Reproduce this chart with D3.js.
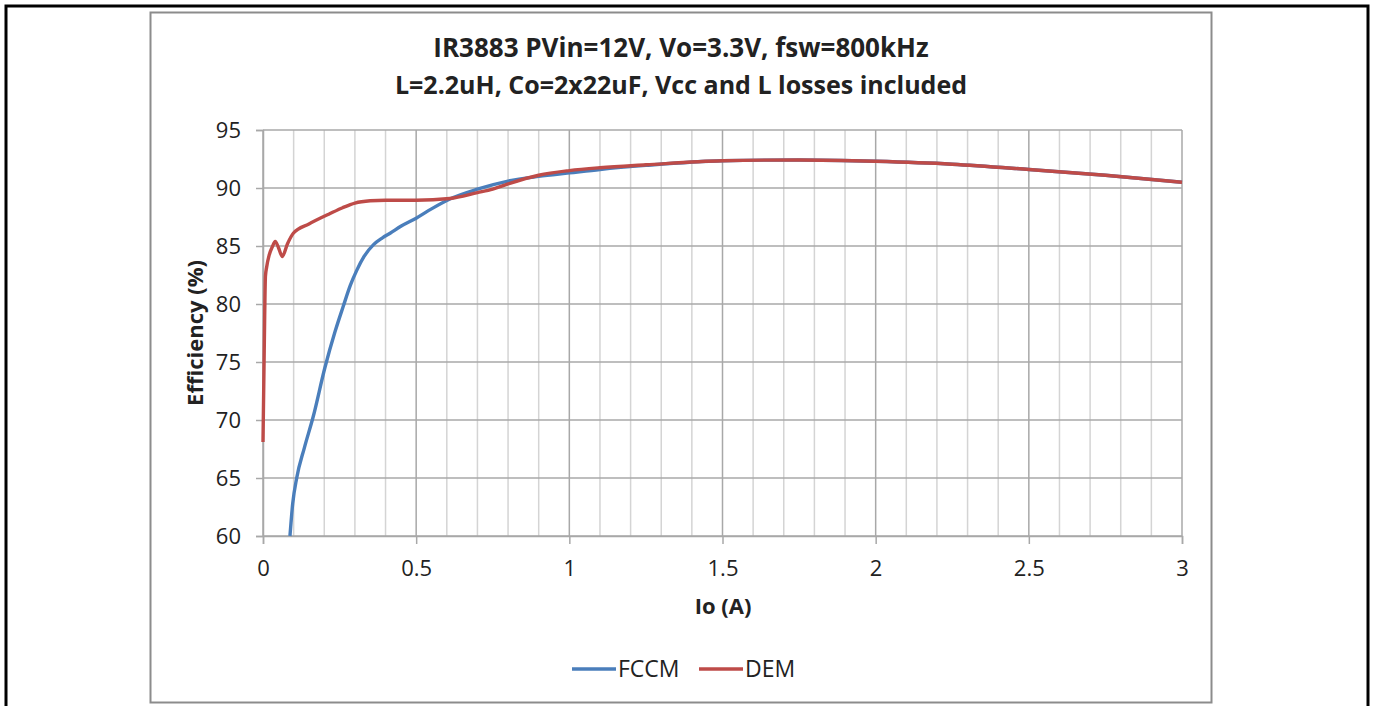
<!DOCTYPE html>
<html>
<head>
<meta charset="utf-8">
<script src="https://cdn.jsdelivr.net/npm/d3@7"></script>
<style>
  body { margin: 0; background: #fff; }
  text { font-family: "Open Sans", "Noto Sans", sans-serif; fill: #222; }
</style>
</head>
<body>
<div id="chart"></div>
<script>
// Io (A) and efficiency (%)
var fccmIo  = [0.088, 0.097, 0.11, 0.135, 0.164, 0.202, 0.235, 0.262, 0.285, 0.306, 0.33, 0.36, 0.39, 0.415, 0.45, 0.5, 0.55, 0.61, 0.7, 0.8, 0.9, 1.0, 1.1, 1.25, 1.5, 1.75, 2.0, 2.25, 2.5, 2.75, 3.0];
var fccmEff = [60.0, 62.8, 65.0, 67.6, 70.3, 74.5, 77.6, 79.8, 81.6, 82.9, 84.1, 85.1, 85.7, 86.1, 86.7, 87.4, 88.2, 89.05, 89.9, 90.6, 91.0, 91.3, 91.6, 91.95, 92.35, 92.42, 92.3, 92.05, 91.6, 91.1, 90.5];

var demIo  = [0.0, 0.004, 0.008, 0.012, 0.02, 0.03, 0.04, 0.05, 0.063, 0.08, 0.099, 0.15, 0.219, 0.26, 0.3, 0.35, 0.4, 0.5, 0.61, 0.7, 0.75, 0.8, 0.9, 1.0, 1.1, 1.25, 1.5, 1.75, 2.0, 2.25, 2.5, 2.75, 3.0];
var demEff = [68.1, 76.0, 82.4, 83.2, 84.2, 84.9, 85.4, 84.9, 84.1, 85.2, 86.1, 86.9, 87.8, 88.3, 88.7, 88.9, 88.95, 88.95, 89.1, 89.6, 89.9, 90.35, 91.1, 91.5, 91.75, 92.0, 92.35, 92.42, 92.3, 92.05, 91.6, 91.1, 90.5];

var xTicks = [0, 0.5, 1, 1.5, 2, 2.5, 3];
var yTicks = [60, 65, 70, 75, 80, 85, 90, 95];
var titleLines = ["IR3883 PVin=12V, Vo=3.3V, fsw=800kHz", "L=2.2uH, Co=2x22uF, Vcc and L losses included"];
var seriesNames = ["FCCM", "DEM"];
var seriesColors = ["#4a7ebb", "#be4b48"];

var W = 1375, H = 706;
var plot = { left: 263, right: 1182, top: 130, bottom: 536 };

var svg = d3.select("#chart").append("svg")
    .attr("width", W).attr("height", H);

// outer frame and chart border
svg.append("rect").attr("x", 6).attr("y", 6).attr("width", 1362).attr("height", 720)
    .attr("fill", "none").attr("stroke", "#000").attr("stroke-width", 3);
svg.append("rect").attr("x", 150.5).attr("y", 12.5).attr("width", 1061).attr("height", 690)
    .attr("fill", "#fff").attr("stroke", "#8c8c8c").attr("stroke-width", 2);

var x = d3.scaleLinear().domain([0, 3]).range([plot.left, plot.right]);
var y = d3.scaleLinear().domain([60, 95]).range([plot.bottom, plot.top]);

// minor vertical grid every 0.1
var minor = d3.range(1, 30).map(d => d / 10).filter(d => Math.abs(d * 2 - Math.round(d * 2)) > 1e-6);
svg.append("g").selectAll("line").data(minor).enter().append("line")
    .attr("x1", d => x(d)).attr("x2", d => x(d))
    .attr("y1", plot.top).attr("y2", plot.bottom)
    .attr("stroke", "#d4d4d4").attr("stroke-width", 1.5);
svg.append("g").selectAll("line").data(xTicks).enter().append("line")
    .attr("x1", d => x(d)).attr("x2", d => x(d))
    .attr("y1", plot.top).attr("y2", plot.bottom)
    .attr("stroke", "#a8a8a8").attr("stroke-width", 1.5);
svg.append("g").selectAll("line").data(yTicks).enter().append("line")
    .attr("x1", plot.left).attr("x2", plot.right)
    .attr("y1", d => y(d)).attr("y2", d => y(d))
    .attr("stroke", "#a8a8a8").attr("stroke-width", 1.5);

// axes
var xAxis = svg.append("g")
    .attr("transform", "translate(0," + plot.bottom + ")")
    .call(d3.axisBottom(x).tickValues(xTicks).tickSize(8).tickPadding(16).tickFormat(d3.format("")));
var yAxis = svg.append("g")
    .attr("transform", "translate(" + plot.left + ",0)")
    .call(d3.axisLeft(y).tickValues(yTicks).tickSize(7).tickPadding(15));
[xAxis, yAxis].forEach(function (a) {
    a.select(".domain").attr("stroke", "#a8a8a8").attr("stroke-width", 1.5);
    a.selectAll(".tick line").attr("stroke", "#a8a8a8").attr("stroke-width", 1.5);
    a.selectAll(".tick text").style("font-size", "22px").attr("fill", "#222")
        .style("font-family", "'Open Sans', sans-serif");
});

// lines
var line = d3.line().x(d => x(d[0])).y(d => y(d[1])).curve(d3.curveMonotoneX);
var series = [d3.zip(fccmIo, fccmEff), d3.zip(demIo, demEff)];
series.forEach(function (s, i) {
    svg.append("path").datum(s)
        .attr("d", line)
        .attr("fill", "none")
        .attr("stroke", seriesColors[i])
        .attr("stroke-width", 3.4)
        .attr("stroke-linejoin", "round");
});

// title
svg.append("g").selectAll("text").data(titleLines).enter().append("text")
    .attr("x", 681).attr("y", (d, i) => 57 + i * 37)
    .attr("text-anchor", "middle")
    .style("font-size", (d, i) => i === 0 ? "26px" : "25px").style("font-weight", "bold")
    .text(d => d);

// axis labels
svg.append("text")
    .attr("transform", "translate(203,333) rotate(-90)")
    .attr("text-anchor", "middle")
    .style("font-size", "22px").style("font-weight", "bold")
    .text("Efficiency (%)");
svg.append("text")
    .attr("x", 723).attr("y", 614)
    .attr("text-anchor", "middle")
    .style("font-size", "22px").style("font-weight", "bold")
    .text("Io (A)");

// legend
var legendX = [572, 699];
seriesNames.forEach(function (name, i) {
    svg.append("line")
        .attr("x1", legendX[i]).attr("x2", legendX[i] + 44)
        .attr("y1", 669).attr("y2", 669)
        .attr("stroke", seriesColors[i]).attr("stroke-width", 3.4);
    svg.append("text")
        .attr("x", legendX[i] + 46).attr("y", 677)
        .style("font-size", "23px")
        .text(name);
});
</script>
</body>
</html>
